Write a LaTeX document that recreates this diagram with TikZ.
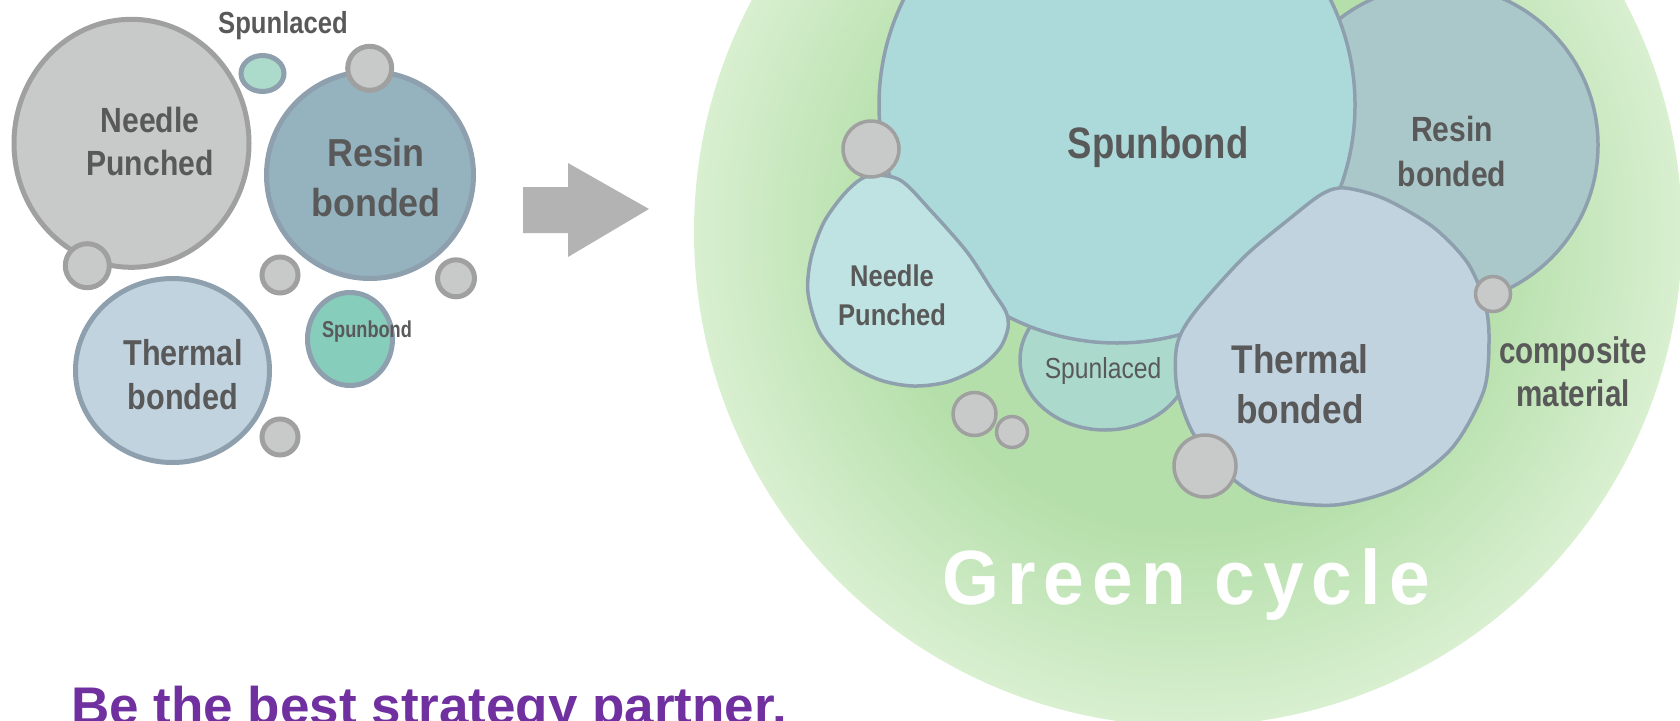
\documentclass[tikz,border=0pt]{standalone}
\usepackage{fontspec}
\setmainfont{Liberation Sans}
\newfontfamily\lblfont{Liberation Sans}
\definecolor{txtgray}{HTML}{595959}
\definecolor{dotfill}{HTML}{C8C9C9}
\definecolor{dotline}{HTML}{A0A0A0}
\definecolor{blobline}{HTML}{8E9FAE}
\definecolor{gcmid}{HTML}{B5DFAA}
\definecolor{gcedge}{HTML}{D8EFD0}
\definecolor{slogan}{HTML}{7030A0}
\definecolor{arrowgray}{HTML}{B3B3B3}
\definecolor{lacedL}{HTML}{ACDACB}
\definecolor{resinL}{HTML}{95B3BE}
\definecolor{thermal}{HTML}{C2D3E0}
\definecolor{bondL}{HTML}{87CDBB}
\definecolor{resinR}{HTML}{AAC8CA}
\definecolor{lacedR}{HTML}{ABDACD}
\definecolor{bondR}{HTML}{ACDADB}
\definecolor{needleR}{HTML}{BFE3E2}
\newcommand\lblsize[3]{\fontsize{#1}{#2}\lblfont\bfseries\addfontfeature{FakeStretch=#3}}
\tikzset{
  blobL/.style={draw=blobline, line width=5},
  blobR/.style={draw=blobline, line width=3.5},
  dotL/.style={draw=dotline, fill=dotfill, line width=5},
  dotR/.style={draw=dotline, fill=dotfill, line width=3.5},
  lbl/.style={text=txtgray, inner sep=0pt, align=center}
}

\begin{document}
\begin{tikzpicture}[x=1pt, y=-1pt]
			%%%%% START %%%%%
			\useasboundingbox (0,0) rectangle (1680,720);
			\clip (0,0) rectangle (1680,720);
			
			% left cluster
			\draw[dotL] (131.5, 143.3) ellipse [x radius=117.5, y radius=124];
			\draw[dotL] (87.3, 265.7) circle (22);
			\draw[blobL, fill=lacedL] (262.5, 73.5) ellipse [x radius=21.5, y radius=18];
			\draw[blobL, fill=resinL] (370, 175) circle (103.5);
			\draw[dotL] (369.7, 68.3) circle (22);
			\draw[dotL] (280, 275) circle (18);
			\draw[dotL] (456, 278.3) circle (18.5);
			\draw[blobL, fill=thermal] (172.5, 370.5) ellipse [x radius=97, y radius=92];
			\draw[blobL, fill=bondL] (350, 339) ellipse [x radius=42.5, y radius=46.5];
			\draw[dotL] (280, 437) circle (18);
			
			\node[lbl, font=\lblsize{35}{43}{0.86}] (needleL) at (150, 141.8) {Needle\\Punched};
			\node[lbl, font=\lblsize{39}{50}{0.92}] (resinL) at (376, 177.8) {Resin\\bonded};
			\node[lbl, font=\lblsize{36}{44}{0.85}] (thermalL) at (183, 374.9) {Thermal\\bonded};
			\node[lbl, anchor=base, font=\lblsize{30.5}{36}{0.84}] (spunlacedL) at (283, 33.3) {Spunlaced};
			\node[lbl, anchor=base, font=\lblsize{23}{28}{0.79}] (spunbondL) at (367, 337) {Spunbond};
			
			% arrow
			\fill[arrowgray] (523, 187) -- (568, 187) -- (568, 163) -- (649, 209)
			  -- (568, 257) -- (568, 233) -- (523, 233) -- cycle;
			
			% green cycle, rim fading out
			\foreach \k in {0,...,48} {
			  \pgfmathsetmacro\rr{494-4*\k}
			  \pgfmathsetmacro\pp{\k*100/48}
			  \fill[gcmid!\pp!gcedge] (1188, 232) circle (\rr);
			}
			
			\draw[blobR, fill=resinR] (1438, 145) circle (160);
			\draw[blobR, fill=lacedR] (1105, 360) ellipse [x radius=85, y radius=70];
			\draw[blobR, fill=bondR] (1117, 105) circle (238);
			\draw[blobR, fill=needleR] plot[smooth cycle] coordinates {
			  (868,176) (900,180) (932,212) (967,252) (992,290) (1006,312) (1008,328)
			  (1000,348) (980,367) (947,382) (913,386) (880,380) (847,363) (820,333)
			  (808,293) (811,258) (824,222) (846,192)};
			\draw[blobR, fill=thermal] plot[smooth cycle] coordinates {
			  (1322,194) (1345,188) (1385,199) (1433,227) (1467,262) (1484,300) (1489,335)
			  (1484,390) (1452,448) (1400,487) (1335,505) (1265,498) (1226,473) (1193,433)
			  (1177,388) (1177,345) (1194,313) (1243,258) (1288,220)};
			
			\draw[dotR] (871, 149) circle (28);
			\draw[dotR] (1493, 294) circle (17.5);
			\draw[dotR] (1205, 466) circle (31);
			\draw[dotR] (974.5, 414) circle (21.5);
			\draw[dotR] (1012, 432) circle (15.5);
			
			\node[lbl, anchor=base, font=\lblsize{44}{52}{0.83}] (spunbondR) at (1158, 158) {Spunbond};
			\node[lbl, font=\lblsize{35}{45}{0.86}] (resinR) at (1452, 151.8) {Resin\\bonded};
			\node[lbl, font=\lblsize{30}{39}{0.85}] (needleR) at (892, 295.6) {Needle\\Punched};
			\node[lbl, anchor=base, font={\fontsize{29}{34}\lblfont\addfontfeature{FakeStretch=0.85}}] (spunlacedR) at (1103, 378) {Spunlaced};
			\node[lbl, font=\lblsize{40}{50}{0.88}] (thermalR) at (1300, 384.4) {Thermal\\bonded};
			\node[lbl, font=\lblsize{37}{43}{0.8}] (compositeR) at (1573, 372) {composite\\material};
			
			\node[anchor=base, inner sep=0pt, text=white, font={\lblsize{77}{90}{0.95}\addfontfeature{LetterSpace=10.5}}] (greencycle) at (1186, 604) {Green cycle};
			
			\node[anchor=base west, inner sep=0pt, text=slogan, font={\fontsize{53}{60}\selectfont\bfseries}] (motto) at (71, 724) {Be the best strategy partner.};
			%%%%% END %%%%%
\end{tikzpicture}
\end{document}
